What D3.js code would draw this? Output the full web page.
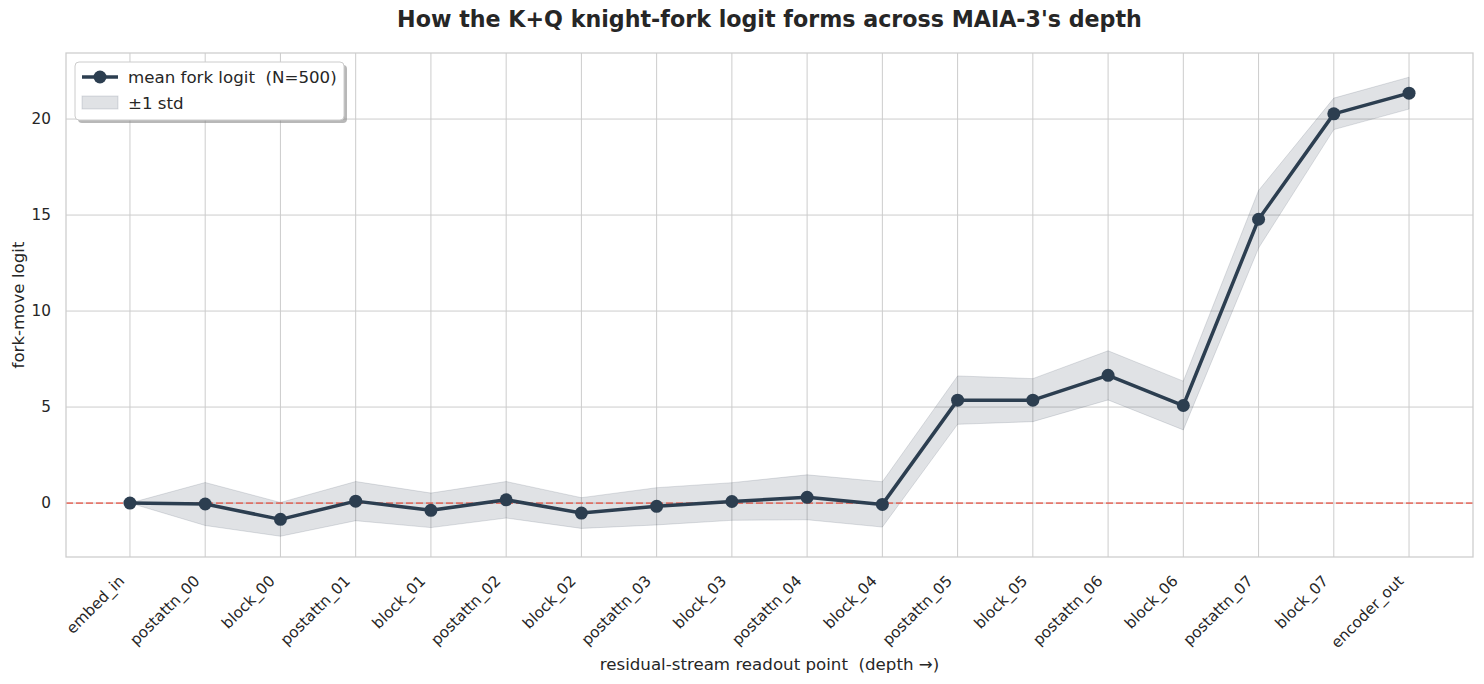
<!DOCTYPE html>
<html><head><meta charset="utf-8">
<script src="https://cdn.jsdelivr.net/npm/d3@7"></script>
<style>body{margin:0;background:#fff;} svg{display:block;font-family:"DejaVu Sans",sans-serif;} text{white-space:pre;}</style>
</head><body>
<svg id="chart" width="1484" height="684"></svg>
<script>
const categories = ["embed_in","postattn_00","block_00","postattn_01","block_01","postattn_02","block_02","postattn_03","block_03","postattn_04","block_04","postattn_05","block_05","postattn_06","block_06","postattn_07","block_07","encoder_out"];
const meanLogit = [0.0,-0.05,-0.85,0.1,-0.38,0.17,-0.52,-0.17,0.08,0.3,-0.07,5.36,5.36,6.65,5.08,14.78,20.27,21.35];
const stdLogit  = [0.0,1.12,0.88,1.02,0.9,0.95,0.8,0.97,0.98,1.17,1.18,1.26,1.12,1.28,1.27,1.5,0.82,0.83];
const yTicks = [0,5,10,15,20];

const svg = d3.select("#chart");
const M = {left:66, right:1473, top:53, bottom:557};
const n = categories.length;
const pad = 0.05*(n-1);
const x = d3.scaleLinear().domain([-pad, n-1+pad]).range([M.left, M.right]);
const y = d3.scaleLinear().domain([-2.81, 23.44]).range([M.bottom, M.top]);

const data = categories.map((c,i)=>({c,i,m:meanLogit[i],s:stdLogit[i]}));
const g = svg.append("g");

// grid
g.selectAll(".vg").data(data).enter().append("line")
  .attr("x1",d=>x(d.i)).attr("x2",d=>x(d.i)).attr("y1",M.top).attr("y2",M.bottom)
  .attr("stroke","#cccccc").attr("stroke-width",1);
g.selectAll(".hg").data(yTicks).enter().append("line")
  .attr("x1",M.left).attr("x2",M.right).attr("y1",d=>y(d)).attr("y2",d=>y(d))
  .attr("stroke","#cccccc").attr("stroke-width",1);

// band
const area = d3.area().x(d=>x(d.i)).y0(d=>y(d.m-d.s)).y1(d=>y(d.m+d.s));
g.append("path").datum(data).attr("d",area)
  .attr("fill","rgba(44,62,80,0.15)").attr("stroke","rgba(44,62,80,0.15)").attr("stroke-width",1);

// zero line
g.append("line").attr("x1",M.left).attr("x2",M.right).attr("y1",y(0)).attr("y2",y(0))
  .attr("stroke","#e74c3c").attr("stroke-opacity",0.7).attr("stroke-width",1.8).attr("stroke-dasharray","7,3");

// line
const line = d3.line().x(d=>x(d.i)).y(d=>y(d.m));
g.append("path").datum(data).attr("d",line).attr("fill","none")
  .attr("stroke","#2c3e50").attr("stroke-width",3.5).attr("stroke-linejoin","round");
g.selectAll(".pt").data(data).enter().append("circle")
  .attr("cx",d=>x(d.i)).attr("cy",d=>y(d.m)).attr("r",6.5).attr("fill","#2c3e50");

// frame
g.append("rect").attr("x",M.left).attr("y",M.top).attr("width",M.right-M.left).attr("height",M.bottom-M.top)
  .attr("fill","none").attr("stroke","#cccccc").attr("stroke-width",1.25);

// axes
const xAxis = d3.axisBottom(x).tickValues(d3.range(n)).tickFormat(i=>categories[i]).tickSize(0).tickPadding(0);
const xa = svg.append("g").attr("transform",`translate(0,${M.bottom})`).call(xAxis);
xa.select(".domain").remove();
xa.selectAll("text").attr("font-size","15.28px").attr("fill","#262626").attr("font-family","DejaVu Sans")
  .attr("text-anchor","end").attr("dy",null).attr("y",0)
  .attr("transform","translate(-13,17) rotate(-45)").attr("dominant-baseline","hanging");

const yAxis = d3.axisLeft(y).tickValues(yTicks).tickSize(0).tickPadding(0);
const ya = svg.append("g").attr("transform",`translate(${M.left},0)`).call(yAxis);
ya.select(".domain").remove();
ya.selectAll("text").attr("font-size","15.28px").attr("fill","#262626").attr("font-family","DejaVu Sans").attr("x",-15);

// labels
svg.append("text").attr("x",(M.left+M.right)/2).attr("y",670).attr("text-anchor","middle")
  .attr("font-size","16.67px").attr("fill","#262626").text("residual-stream readout point  (depth →)");
svg.append("text").attr("transform",`translate(24,${(M.top+M.bottom)/2}) rotate(-90)`).attr("text-anchor","middle")
  .attr("font-size","16.67px").attr("fill","#262626").text("fork-move logit");
svg.append("text").attr("x",(M.left+M.right)/2).attr("y",27).attr("text-anchor","middle")
  .attr("font-size","22.2px").attr("font-weight","bold").attr("fill","#262626")
  .text("How the K+Q knight-fork logit forms across MAIA-3's depth");

// legend
const lg = svg.append("g");
lg.append("rect").attr("x",78).attr("y",65).attr("width",269).attr("height",58).attr("rx",4)
  .attr("fill","#888").attr("opacity",0.6);
lg.append("rect").attr("x",75).attr("y",62).attr("width",269).attr("height",58).attr("rx",4)
  .attr("fill","#fff").attr("stroke","#cccccc").attr("stroke-width",1);
lg.append("line").attr("x1",82).attr("x2",118).attr("y1",77).attr("y2",77).attr("stroke","#2c3e50").attr("stroke-width",3.5);
lg.append("circle").attr("cx",100).attr("cy",77).attr("r",6.5).attr("fill","#2c3e50");
lg.append("rect").attr("x",82).attr("y",96).attr("width",36).attr("height",13)
  .attr("fill","rgba(44,62,80,0.15)").attr("stroke","rgba(44,62,80,0.15)");
lg.append("text").attr("x",128).attr("y",83).attr("font-size","16.67px").attr("fill","#262626").text("mean fork logit  (N=500)");
lg.append("text").attr("x",128).attr("y",109).attr("font-size","16.67px").attr("fill","#262626").text("±1 std");
</script>
</body></html>
